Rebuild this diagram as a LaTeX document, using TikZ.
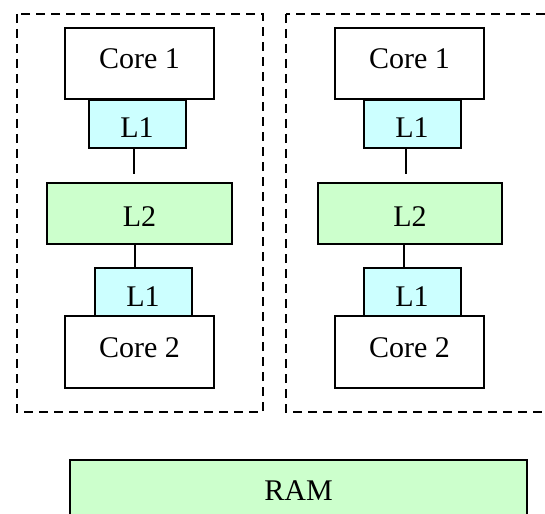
\documentclass[tikz,border=0pt]{standalone}
\usepackage{fontspec}
\setmainfont{Liberation Serif}
\usepackage{tikz}
\usetikzlibrary{positioning}
\definecolor{lonefill}{HTML}{CCFFFF}
\definecolor{ltwofill}{HTML}{CCFFCC}
\tikzset{
x=1pt, y=-1pt, % one unit is one pixel of the drawing
every node/.style={draw, inner sep=0pt, font=\fontsize{30}{36}\selectfont}, % boxes with text
chip/.style={dash pattern=on 9pt off 6pt}, % the dashed outline of a chip
}

\begin{document}
\begin{tikzpicture}[
  line width=2pt,
  core/.style={fill=white, minimum width=149pt, text height=20pt, text depth=10pt},
  lone/.style={fill=lonefill, minimum width=97pt, minimum height=48pt, text height=28pt, text depth=0pt},
  ltwo/.style={fill=ltwofill, minimum height=61pt, text height=25pt, text depth=0pt},
  ram/.style={fill=ltwofill, minimum width=457pt, minimum height=80pt, text height=20pt, text depth=20pt}
]
  \useasboundingbox (0,0) rectangle (545,513);
  % chips
  \draw[chip] (17,14) rectangle (263,412);
  \draw[chip] (286,14) rectangle (580,412);
  % left chip
  \node[core, minimum height=71pt] (core1L) at (139.5,63.5) {Core 1};
  \node[lone] (l1aL) at (137,124) {L1};
  \node[ltwo, minimum width=185pt] (l2L) at (139.5,213.5) {L2};
  \node[core, minimum height=72pt] (core2L) at (139.5,352) {Core 2};
  \node[lone] (l1bL) at (143,292) {L1};
  \draw ([xshift=-3pt]l1aL.south) -- ++(0,25);
  \draw ([xshift=-4.5pt]l2L.south) -- ([xshift=-4.5pt]l2L.south |- l1bL.north);
  % right chip
  \node[core, minimum height=71pt] (core1R) at (409.5,63.5) {Core 1};
  \node[lone] (l1aR) at (412,124) {L1};
  \node[ltwo, minimum width=184pt] (l2R) at (410,213.5) {L2};
  \node[core, minimum height=72pt] (core2R) at (409.5,352) {Core 2};
  \node[lone] (l1bR) at (412,292) {L1};
  \draw ([xshift=-6pt]l1aR.south) -- ++(0,25);
  \draw ([xshift=-6pt]l2R.south) -- ([xshift=-6pt]l2R.south |- l1bR.north);
  % memory
  \node[ram] (ram) at (298.5,500) {RAM};
\end{tikzpicture}
\end{document}
